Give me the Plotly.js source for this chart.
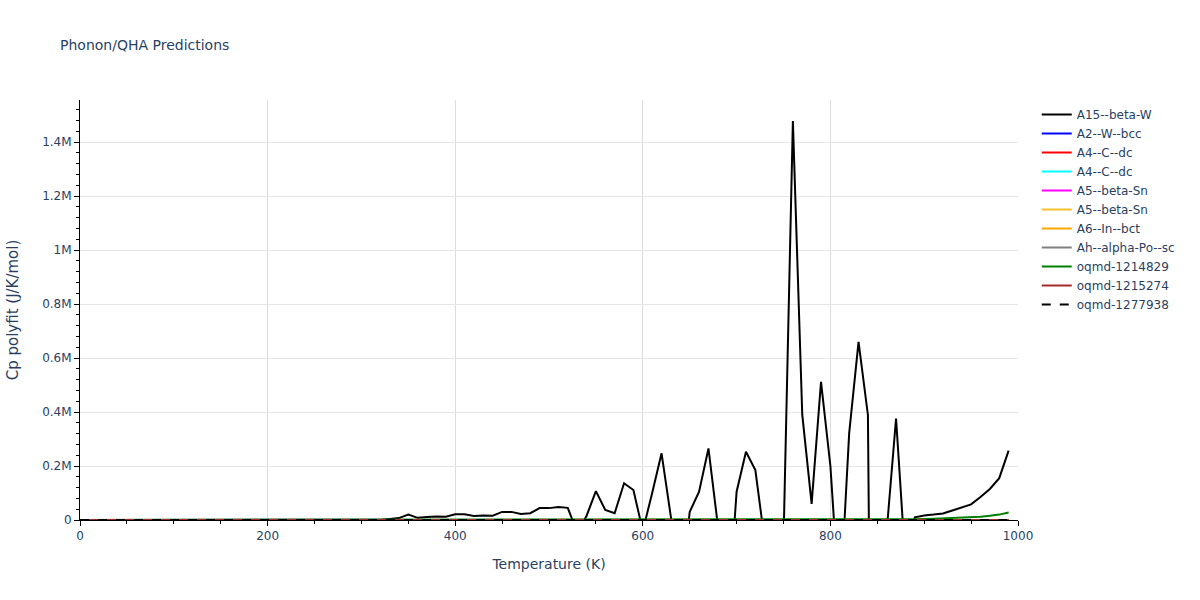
<!DOCTYPE html>
<html>
<head>
<meta charset="utf-8">
<script src="https://cdn.plot.ly/plotly-3.0.1.min.js"></script>
<style>html,body{margin:0;padding:0;background:#fff;}#chart{width:1200px;height:600px;}</style>
</head>
<body>
<div id="chart"></div>
<script>
// Temperatures (K) for the A15--beta-W series
const temperature = [0,10,20,30,40,50,60,70,80,90,100,110,120,130,140,150,160,170,180,190,200,210,220,230,240,250,260,270,280,290,300,310,320,330,340,350,360,370,380,390,400,410,420,430,440,450,460,470,480,490,500,510,520,530,540,550,560,570,580,590,600,610,620,630,640,650,660,670,680,690,700,710,720,730,740,750,760,770,780,790,800,810,820,830,840,850,860,870,880,890,900,910,920,930,940,950,960,970,980,990];
const cpA15 = [0,0,0,0,0,0,0,0,0,0,0,0,0,0,0,0,0,0,0,0,0,0,0,0,0,0,0,0,0,0,0,0,
  1000,4000,7000,20000,8000,11000,13000,12000,
  21000,21000,15000,17000,16000,30000,30000,22000,25000,44000,
  44000,48000,45000,-45000,15000,107000,37000,25000,136000,111000,
  -40000,100000,247000,10000,-300000,30000,105000,265000,-20000,-400000,
  105000,253000,185000,-80000,-300000,-80000,1478000,390000,60000,512000,
  200000,-330000,321000,660000,389000,-3500000,-42000,376000,-160000,10000,
  17000,20000,24000,35000,46000,58000,85000,115000,155000,257000];

// Coarse temperature grid for the series that stay at ~0
const tempCoarse = [0,50,100,150,200,250,300,350,400,450,500,550,600,650,700,750,800,850,900,950,990];
const cpA2 = [0,0,0,0,0,0,0,0,0,0,0,0,0,0,0,0,0,0,0,0,0];
const cpA4a = [0,0,0,0,0,0,0,0,0,0,0,0,0,0,0,0,0,0,0,0,0];
const cpA4b = [0,0,0,0,0,0,0,0,0,0,0,0,0,0,0,0,0,0,0,0,0];
const cpA5a = [0,0,0,0,0,0,0,0,0,0,0,0,0,0,0,0,0,0,0,0,0];
const cpA5b = [0,0,0,0,0,0,0,0,0,0,0,0,0,0,0,0,0,0,0,0,0];
const cpA6 = [0,0,0,0,0,0,0,0,0,0,0,0,0,0,0,0,0,0,0,0,0];
const cpAh = [0,0,0,0,0,0,0,0,0,0,0,0,0,0,0,0,0,0,0,0,0];
const cp1215274 = [0,0,0,0,0,0,0,0,0,0,0,0,0,0,0,0,0,0,0,0,0];
const cp1277938 = [0,0,0,0,0,0,0,0,0,0,0,0,0,0,0,0,0,0,0,0,0];

// oqmd-1214829 (green) – rises at the high-temperature end
const tempGreen = [0,100,200,300,400,500,600,700,750,800,850,870,890,910,930,950,960,970,980,990];
const cp1214829 = [0,50,100,150,250,350,500,700,850,1000,1500,2000,3000,4500,6500,9500,12000,15500,20000,28000];

const names = ['A15--beta-W','A2--W--bcc','A4--C--dc','A4--C--dc','A5--beta-Sn','A5--beta-Sn','A6--In--bct','Ah--alpha-Po--sc','oqmd-1214829','oqmd-1215274','oqmd-1277938'];
const colors = ['black','blue','red','cyan','magenta','#F2C12E','orange','gray','green','brown','black'];

const xs = [temperature,tempCoarse,tempCoarse,tempCoarse,tempCoarse,tempCoarse,tempCoarse,tempCoarse,tempGreen,tempCoarse,tempCoarse];
const ys = [cpA15,cpA2,cpA4a,cpA4b,cpA5a,cpA5b,cpA6,cpAh,cp1214829,cp1215274,cp1277938];

const traces = names.map((n,i)=>({
  x: xs[i], y: ys[i], name: n, type:'scatter', mode:'lines',
  line:{color:colors[i], width:2, dash: i===10 ? 'dash' : 'solid'}
}));

const layout = {
  width:1200, height:600,
  title:{text:'Phonon/QHA Predictions', font:{size:14}, x:0.05, xanchor:'left'},
  paper_bgcolor:'white', plot_bgcolor:'white',
  font:{family:'Verdana, "DejaVu Sans", sans-serif', color:'#2a3f5f', size:12},
  margin:{l:80, r:182, t:100, b:80},
  xaxis:{
    title:{text:'Temperature (K)', font:{size:14}, standoff:16},
    range:[0,1000], dtick:200,
    showline:true, linecolor:'black', linewidth:1,
    ticks:'outside', ticklen:5, tickcolor:'black',
    minor:{dtick:50, ticks:'outside', ticklen:3, tickcolor:'black'},
    showgrid:true, gridcolor:'#dcdcdc', zeroline:false
  },
  yaxis:{
    title:{text:'Cp polyfit (J/K/mol)', font:{size:15}, standoff:19},
    range:[0,1555700], dtick:200000,
    showline:true, linecolor:'black', linewidth:1,
    ticks:'outside', ticklen:5, tickcolor:'black',
    minor:{dtick:40000, ticks:'outside', ticklen:3, tickcolor:'black'},
    showgrid:true, gridcolor:'#e6e6e6', zeroline:false
  },
  legend:{x:1.02, y:1, font:{size:12}},
  showlegend:true
};

Plotly.newPlot('chart', traces, layout, {displayModeBar:false});
</script>
</body>
</html>
